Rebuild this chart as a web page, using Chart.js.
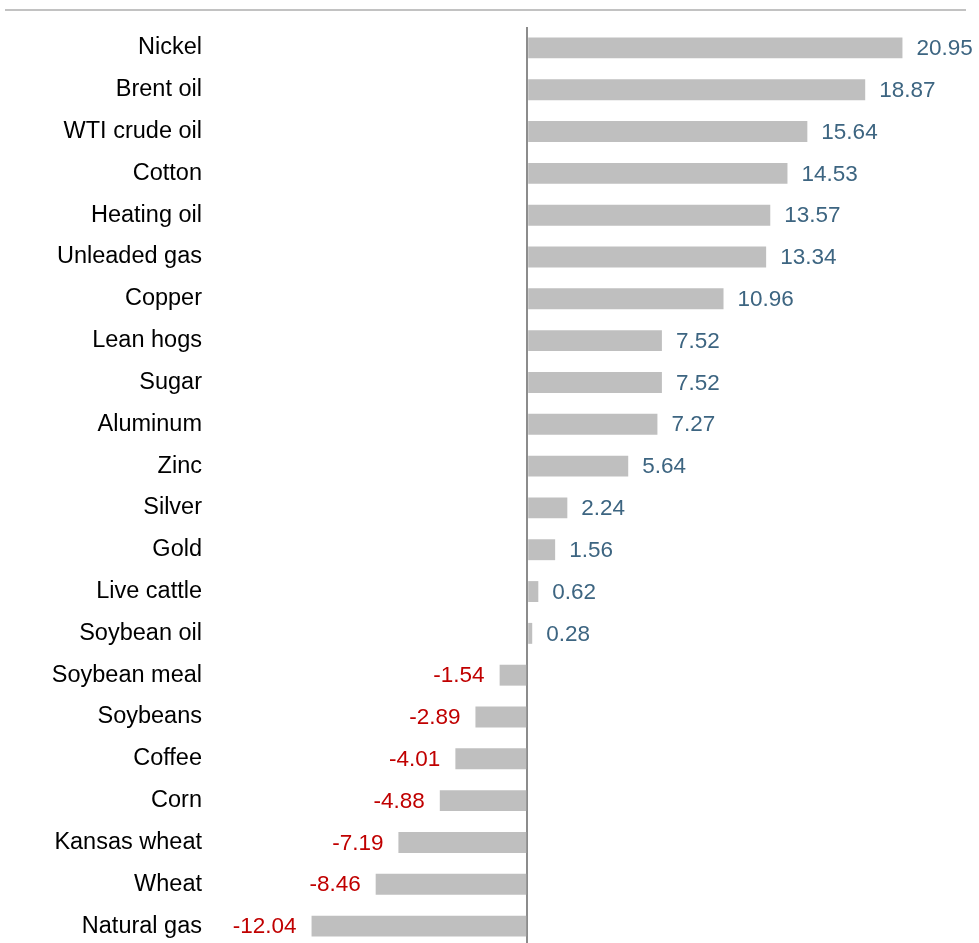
<!DOCTYPE html>
<html>
<head>
<meta charset="utf-8">
<title>Commodities</title>
<script src="https://cdn.jsdelivr.net/npm/chart.js@4/dist/chart.umd.min.js"></script>
<style>
    html, body { margin: 0; padding: 0; background: #fff; overflow: hidden; }
    #wrap { position: relative; width: 979px; height: 943px; }
    #topRule { position: absolute; left: 5px; top: 9px; width: 961px; border-top: 2px solid #c2c2c2; }
    #chartCanvas { position: absolute; left: 0; top: 0; }
</style>
</head>
<body>
<div id="wrap">
    <div id="topRule"></div>
    <canvas id="chartCanvas" width="979" height="950"></canvas>
</div>
<script>
const commodities = [
    'Nickel', 'Brent oil', 'WTI crude oil', 'Cotton', 'Heating oil', 'Unleaded gas',
    'Copper', 'Lean hogs', 'Sugar', 'Aluminum', 'Zinc', 'Silver', 'Gold',
    'Live cattle', 'Soybean oil', 'Soybean meal', 'Soybeans', 'Coffee', 'Corn',
    'Kansas wheat', 'Wheat', 'Natural gas'
];
const changes = [
    20.95, 18.87, 15.64, 14.53, 13.57, 13.34,
    10.96, 7.52, 7.52, 7.27, 5.64, 2.24, 1.56,
    0.62, 0.28, -1.54, -2.89, -4.01, -4.88,
    -7.19, -8.46, -12.04
];

const posColor = '#3d6581';
const negColor = '#c00000';
const fontFamily = 'Arial, "Liberation Sans", sans-serif';

// value labels next to each bar end
const valueLabels = {
    id: 'valueLabels',
    afterDatasetsDraw(chart) {
        const ctx = chart.ctx;
        const meta = chart.getDatasetMeta(0);
        ctx.save();
        ctx.font = '22.5px ' + fontFamily;
        ctx.textBaseline = 'middle';
        meta.data.forEach((bar, i) => {
            const v = changes[i];
            if (v >= 0) {
                ctx.fillStyle = posColor;
                ctx.textAlign = 'left';
                ctx.fillText(v.toFixed(2), bar.x + 14, bar.y + 1);
            } else {
                ctx.fillStyle = negColor;
                ctx.textAlign = 'right';
                ctx.fillText(v.toFixed(2), bar.x - 15, bar.y + 1);
            }
        });
        ctx.restore();
    }
};

new Chart(document.getElementById('chartCanvas'), {
    type: 'bar',
    data: {
        labels: commodities,
        datasets: [{
            data: changes,
            backgroundColor: '#bfbfbf',
            borderWidth: 0,
            categoryPercentage: 1,
            barPercentage: 0.5
        }]
    },
    options: {
        indexAxis: 'y',
        responsive: false,
        animation: false,
        layout: { padding: { top: 27, bottom: 3, left: 0, right: 4 } },
        plugins: {
            legend: { display: false },
            tooltip: { enabled: false }
        },
        scales: {
            x: {
                min: -17.43,
                max: 25,
                afterBuildTicks: s => { s.ticks = [{ value: 0 }]; },
                afterFit: s => { s.height = 0; },
                ticks: { display: false },
                border: { display: false },
                grid: { color: '#8c8c8c', lineWidth: 2, drawTicks: false }
            },
            y: {
                afterFit: s => {
                    s.width = 215;
                    s.paddingTop = 0;
                    s.paddingBottom = 0;
                },
                ticks: {
                    color: '#000',
                    padding: 13,
                    font: { size: 23.5, family: fontFamily }
                },
                border: { display: false },
                grid: { display: false, drawTicks: false }
            }
        }
    },
    plugins: [valueLabels]
});
</script>
</body>
</html>
